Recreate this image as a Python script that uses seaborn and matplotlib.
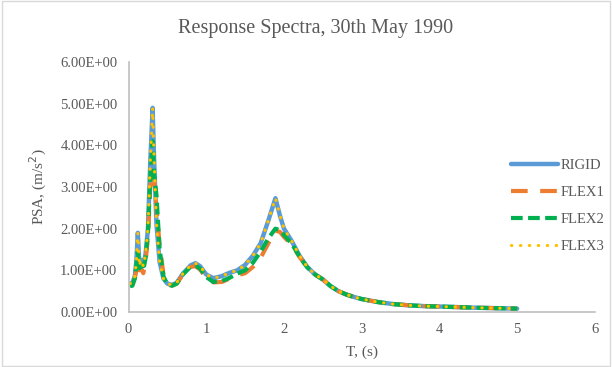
import numpy as np
import pandas as pd
import seaborn as sns
import matplotlib.pyplot as plt
from matplotlib.patches import Rectangle

# response spectra
T = [0.02, 0.05, 0.08, 0.10, 0.12, 0.14, 0.16, 0.19, 0.22, 0.25, 0.28, 0.31, 0.33, 0.36,
     0.40, 0.45, 0.50, 0.56, 0.62, 0.70, 0.80, 0.86, 0.92, 1.00, 1.09, 1.20, 1.30, 1.40,
     1.50, 1.60, 1.70, 1.80, 1.89, 1.95, 2.00, 2.10, 2.20, 2.30, 2.40, 2.50, 2.60, 2.70,
     2.80, 2.90, 3.00, 3.20, 3.40, 3.60, 3.80, 4.00, 4.50, 5.00]
rigid = [0.68, 0.70, 0.85, 1.20, 1.90, 1.10, 1.25, 1.10, 1.40, 2.00, 3.60, 4.90, 3.60, 2.10,
         1.20, 0.80, 0.68, 0.65, 0.70, 0.92, 1.12, 1.17, 1.10, 0.90, 0.81, 0.86, 0.94, 1.00,
         1.13, 1.35, 1.65, 2.20, 2.73, 2.30, 2.00, 1.70, 1.35, 1.08, 0.90, 0.78, 0.62, 0.50,
         0.42, 0.36, 0.31, 0.24, 0.19, 0.16, 0.14, 0.13, 0.10, 0.08]
flex1 = [0.66, 0.66, 0.80, 1.00, 1.20, 1.00, 1.05, 0.93, 1.20, 1.80, 3.00, 3.40, 3.20, 2.50,
         1.60, 0.90, 0.68, 0.63, 0.68, 0.90, 1.08, 1.10, 1.02, 0.82, 0.71, 0.72, 0.80, 0.88,
         0.93, 1.08, 1.30, 1.65, 1.95, 1.92, 1.80, 1.62, 1.32, 1.07, 0.90, 0.78, 0.62, 0.50,
         0.42, 0.36, 0.31, 0.24, 0.19, 0.16, 0.14, 0.13, 0.10, 0.08]
flex2 = [0.62, 0.63, 0.80, 1.10, 1.45, 1.05, 1.15, 1.00, 1.30, 1.90, 3.20, 4.10, 3.30, 2.80,
         1.50, 0.85, 0.66, 0.63, 0.68, 0.90, 1.09, 1.12, 1.04, 0.84, 0.72, 0.74, 0.82, 0.92,
         1.00, 1.18, 1.45, 1.77, 2.00, 1.96, 1.85, 1.64, 1.33, 1.07, 0.90, 0.78, 0.62, 0.50,
         0.42, 0.36, 0.31, 0.24, 0.19, 0.16, 0.14, 0.13, 0.10, 0.08]
flex3 = rigid

series = ['RIGID', 'FLEX1', 'FLEX2', 'FLEX3']
values = [rigid, flex1, flex2, flex3]
colors = ['#5B9BD5', '#ED7D31', '#00B050', '#FFC000']
styles = [dict(lw=3.2, ls='-'),
          dict(lw=3.0, ls=(0, (4, 3))),
          dict(lw=3.0, ls=(0, (2.8, 1.3))),
          dict(lw=2.3, ls=(0, (0.1, 2.7)), dash_capstyle='round')]

df = pd.DataFrame({'T': T})
for name, v in zip(series, values):
    df[name] = v

sns.set_style('white')
plt.rcParams['font.family'] = ['Liberation Serif', 'DejaVu Serif']
gray = '#595959'

fig = plt.figure(figsize=(6.12, 3.67), dpi=100)
ax = fig.add_axes([0.21, 0.15, 0.762, 0.681])

for name, c, st in zip(series, colors, styles):
    sns.lineplot(data=df, x='T', y=name, ax=ax, color=c, label=name, **st)

ax.set_xlim(0, 6)
ax.set_ylim(0, 6)
ax.set_xticks(range(0, 7))
ax.set_yticks(range(0, 7))
ax.set_yticklabels([f'{v:.2E}' for v in range(0, 7)])
ax.tick_params(length=0, labelsize=10.5, colors=gray, pad=8)
ax.set_xlabel('T, (s)', fontsize=11, color=gray, labelpad=7)
ax.set_ylabel('PSA, (m/s$^2$)', fontsize=11, color=gray, labelpad=8)
fig.text(316 / 612, 1 - 28 / 367, 'Response Spectra, 30th May 1990', fontsize=14.5,
         color=gray, ha='center', va='center')

for s in ['top', 'right']:
    ax.spines[s].set_visible(False)
for s in ['left', 'bottom']:
    ax.spines[s].set_color('#BFBFBF')
    ax.spines[s].set_linewidth(1.2)

leg = ax.legend(loc='center left', bbox_to_anchor=(0.826, 0.438), bbox_transform=fig.transFigure,
                frameon=False, fontsize=10.5, handlelength=3.2, handletextpad=0.15,
                labelspacing=0.95, borderaxespad=0)
for t in leg.get_texts():
    t.set_color(gray)

fig.patches.append(Rectangle((0.003, 0.003), 0.994, 0.994, transform=fig.transFigure,
                             fill=False, edgecolor='#D9D9D9', lw=1))

fig.savefig('out.png', dpi=100)
